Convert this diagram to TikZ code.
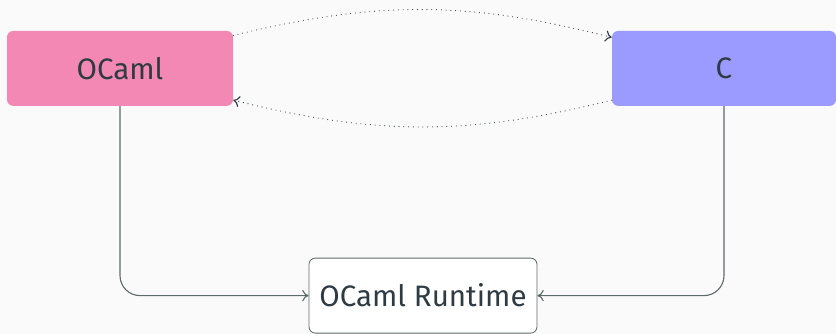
\documentclass[tikz,border=0pt]{standalone}
\usepackage{fontspec}
\setmainfont{Fira Sans}
\usepackage{xcolor}
\usetikzlibrary{arrows.meta,positioning}

\definecolor{bgcol}{HTML}{FAFAFA}
\definecolor{camlpink}{HTML}{F388B4}
\definecolor{cblue}{HTML}{9B9BFF}
\definecolor{inkcol}{HTML}{2E3B43}
\definecolor{wirecol}{HTML}{5E6B6C}

\begin{document}
\begin{tikzpicture}[
  font=\fontsize{21}{25}\selectfont,
  % ---- boxes -------------------------------------------------------------
  lang/.style={
    draw=none, rounded corners=4.5pt, text=inkcol,
    minimum height=1.875cm, inner sep=0pt},
  rtbox/.style={lang, draw=wirecol, line width=0.6pt, fill=white},
  % ---- edges -------------------------------------------------------------
  call/.style={draw=inkcol, line width=0.8pt, line cap=round,
    dash pattern=on 0pt off 3.4pt, -{To[length=4.5pt,width=8pt]}},
  link/.style={draw=wirecol, line width=0.8pt, rounded corners=0.5cm,
    -{To[length=4.5pt,width=8pt]}},
]

% ---- canvas ----------------------------------------------------------------
\fill[bgcol] (0,0) rectangle (20.9,8.35);
\useasboundingbox (0,0) rectangle (20.9,8.35);

% ---- languages -------------------------------------------------------------
\node[lang, fill=camlpink, minimum width=5.65cm] (ocaml) at (3.00,6.64) {OCaml};
\node[lang, fill=cblue,    minimum width=5.60cm] (cside) at (18.10,6.64) {C};

% ---- runtime ---------------------------------------------------------------
\node[rtbox, minimum width=5.70cm] (rt) at (10.575,0.96) {OCaml Runtime};

% ---- calls between the two sides (dotted) ----------------------------------
\draw[call] ([yshift=-0.12cm]ocaml.north east) to[bend left=14] ([yshift=-0.17cm]cside.north west);
\draw[call] ([yshift=0.15cm]cside.south east -| cside.west) to[bend left=14] ([yshift=0.15cm]ocaml.south east);

% ---- both sides -> runtime -------------------------------------------------
\draw[link] (ocaml.south) |- (rt.west);
\draw[link] (cside.south) |- (rt.east);

\end{tikzpicture}
\end{document}
